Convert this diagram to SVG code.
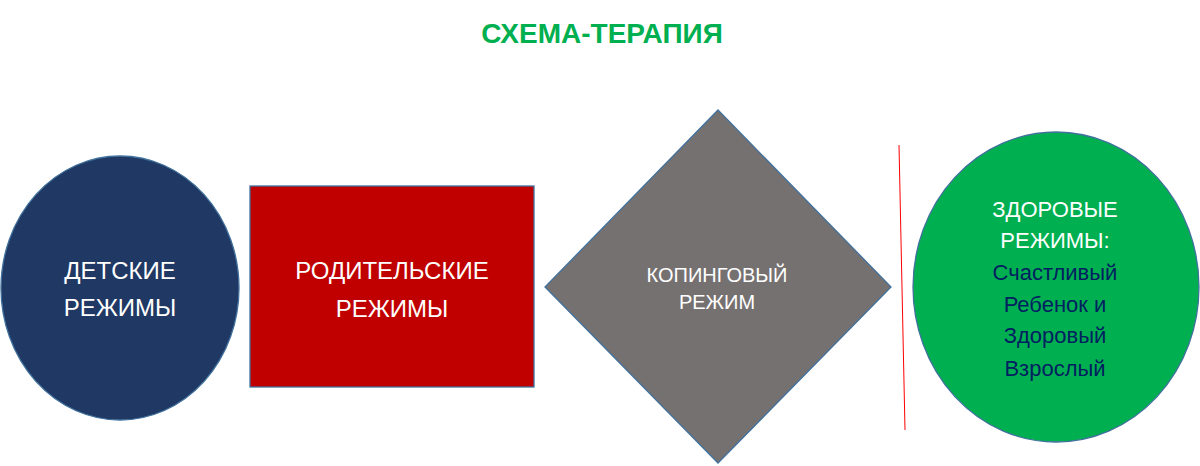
<svg xmlns="http://www.w3.org/2000/svg" width="1200" height="466" viewBox="0 0 1200 466">
<style>
  text { font-family: "Liberation Sans", Arial, sans-serif; text-anchor: middle; }
  .w { fill: #FFFFFF; }
  .shape { stroke: #41719C; stroke-width: 1.3; }
</style>
<rect width="1200" height="466" fill="#FFFFFF"/>
<text x="602" y="43" font-size="28" font-weight="bold" fill="#00B050">СХЕМА-ТЕРАПИЯ</text>
<g id="node-child">
  <ellipse class="shape" cx="120" cy="288" rx="119" ry="132" fill="#1F3864"/>
  <text class="w" x="120" y="279" font-size="24">ДЕТСКИЕ</text>
  <text class="w" x="120" y="316" font-size="24">РЕЖИМЫ</text>
</g>
<g id="node-parent">
  <rect class="shape" x="250" y="186" width="284" height="201" fill="#C00000"/>
  <text class="w" x="392" y="279" font-size="24">РОДИТЕЛЬСКИЕ</text>
  <text class="w" x="392" y="317" font-size="24">РЕЖИМЫ</text>
</g>
<g id="node-coping">
  <polygon class="shape" points="718,110 891,287 718,463 545,287" fill="#767171"/>
  <text class="w" x="717" y="282" font-size="20">КОПИНГОВЫЙ</text>
  <text class="w" x="717" y="309" font-size="20">РЕЖИМ</text>
</g>
<g id="connectors">
  <line x1="899" y1="145" x2="905" y2="430" stroke="#FF0000" stroke-width="1"/>
</g>
<g id="node-healthy">
  <ellipse class="shape" cx="1056" cy="287" rx="143" ry="155" fill="#00B050"/>
  <text class="w" x="1055" y="217" font-size="22">ЗДОРОВЫЕ</text>
  <text class="w" x="1055" y="248" font-size="22">РЕЖИМЫ:</text>
  <g fill="#002060" font-size="22">
    <text x="1055" y="280">Счастливый</text>
    <text x="1055" y="312">Ребенок и</text>
    <text x="1055" y="343">Здоровый</text>
    <text x="1055" y="376">Взрослый</text>
  </g>
</g>
</svg>
